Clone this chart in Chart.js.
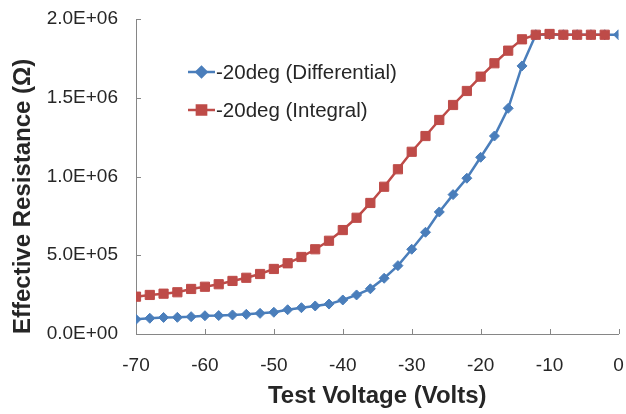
<!DOCTYPE html>
<html>
<head>
<meta charset="utf-8">
<script src="https://cdn.jsdelivr.net/npm/chart.js@4/dist/chart.umd.min.js"></script>
<style>
  html, body { margin: 0; padding: 0; background: #fff; }
  #wrap { width: 626px; height: 414px; }
</style>
</head>
<body>
<div id="wrap"><canvas id="resistanceChart" width="626" height="414"></canvas></div>
<script>
// Test voltages (V)
const voltsDiff = [-70, -68, -66, -64, -62, -60, -58, -56, -54, -52, -50, -48, -46, -44, -42, -40, -38, -36,
                   -34, -32, -30, -28, -26, -24, -22, -20, -18, -16, -14, -12, -10, -8, -6, -4, -2, 0];
const voltsInt = [-70, -68, -66, -64, -62, -60, -58, -56, -54, -52, -50, -48, -46, -44, -42, -40, -38, -36,
                  -34, -32, -30, -28, -26, -24, -22, -20, -18, -16, -14, -12, -10, -8, -6, -4, -2];

// Effective resistance (ohm)
const resDiff = [93000, 100000, 105000, 106000, 110000, 116000, 117000, 121000, 125000, 131000, 138000, 154000,
                 167000, 178000, 190000, 216000, 248000, 287000, 354000, 434000, 538000, 646000, 775000, 885000,
                 989000, 1122000, 1257000, 1433000, 1702000, 1900000, 1900000, 1900000, 1900000, 1900000, 1900000, 1900000];
const resInt = [237000, 248000, 256000, 265000, 286000, 300000, 316000, 337000, 357000, 381000, 413000, 449000,
                489000, 538000, 592000, 660000, 738000, 832000, 935000, 1046000, 1157000, 1257000, 1359000, 1454000,
                1543000, 1634000, 1719000, 1799000, 1871000, 1900000, 1905000, 1900000, 1900000, 1900000, 1900000];

const seriesNames = ['-20deg (Differential)', '-20deg (Integral)'];
const xTicks = [-70, -60, -50, -40, -30, -20, -10, 0];
const yTicks = [0, 500000, 1000000, 1500000, 2000000];

const BLUE = '#4A7EBB';
const RED = '#BE4B48';
const AXIS = '#868686';
const TEXT = '#262626';
const FONT = '"Liberation Sans", Arial, sans-serif';

function toPoints(xs, ys) {
    return xs.map((x, i) => ({ x: x, y: ys[i] }));
}

function sciLabel(v) {
    const [m, e] = Number(v).toExponential(1).split('e');
    const sign = e[0] === '-' ? '-' : '+';
    const digits = e.replace(/[+-]/, '').padStart(2, '0');
    return m + 'E' + sign + digits;
}

// short tick marks pointing into the plot area
const innerTicks = {
    id: 'innerTicks',
    afterDraw(chart) {
        const { ctx, chartArea, scales } = chart;
        ctx.save();
        ctx.strokeStyle = AXIS;
        ctx.lineWidth = 1;
        ctx.beginPath();
        xTicks.forEach(v => {
            const px = Math.round(scales.x.getPixelForValue(v)) + 0.5;
            ctx.moveTo(px, chartArea.bottom);
            ctx.lineTo(px, chartArea.bottom - 5);
        });
        yTicks.forEach(v => {
            const py = Math.round(scales.y.getPixelForValue(v)) + 0.5;
            ctx.moveTo(chartArea.left, py);
            ctx.lineTo(chartArea.left + 5, py);
        });
        ctx.stroke();
        ctx.restore();
    }
};

// legend inside the plot, top left
const insideLegend = {
    id: 'insideLegend',
    afterDraw(chart) {
        const ctx = chart.ctx;
        const entries = [
            { name: seriesNames[0], color: BLUE, style: 'rectRot', radius: 5, y: 72 },
            { name: seriesNames[1], color: RED, style: 'rect', radius: 6.5, y: 110 }
        ];
        ctx.save();
        entries.forEach(e => {
            ctx.strokeStyle = e.color;
            ctx.lineWidth = 2.5;
            ctx.beginPath();
            ctx.moveTo(188, e.y);
            ctx.lineTo(215, e.y);
            ctx.stroke();
            ctx.fillStyle = e.color;
            Chart.helpers.drawPoint(ctx, {
                pointStyle: e.style, radius: e.radius, rotation: 0, borderWidth: 1
            }, 201.5, e.y);
            ctx.fillStyle = TEXT;
            ctx.font = '20.5px ' + FONT;
            ctx.textAlign = 'left';
            ctx.textBaseline = 'middle';
            ctx.fillText(e.name, 216, e.y + 1);
        });
        ctx.restore();
    }
};

const ctx = document.getElementById('resistanceChart').getContext('2d');
const resistanceChart = new Chart(ctx, {
    type: 'line',
    data: {
        datasets: [
            {
                label: seriesNames[1],
                data: toPoints(voltsInt, resInt),
                borderColor: RED,
                backgroundColor: RED,
                borderWidth: 2.5,
                pointStyle: 'rect',
                pointRadius: 6.5,
                pointBorderWidth: 1,
                tension: 0,
                fill: false
            },
            {
                label: seriesNames[0],
                data: toPoints(voltsDiff, resDiff),
                borderColor: BLUE,
                backgroundColor: BLUE,
                borderWidth: 2.5,
                pointStyle: 'rectRot',
                pointRadius: 5,
                pointBorderWidth: 1,
                tension: 0,
                fill: false
            }
        ]
    },
    options: {
        responsive: false,
        animation: false,
        layout: { padding: { top: 19, right: 6, left: 0, bottom: 0 } },
        plugins: {
            legend: { display: false },
            tooltip: { enabled: false }
        },
        scales: {
            x: {
                type: 'linear',
                min: -70,
                max: 0,
                afterBuildTicks: scale => { scale.ticks = xTicks.map(v => ({ value: v })); },
                afterFit: scale => {
                    scale.height = 80;
                    scale.paddingLeft = 0;
                    scale.paddingRight = 0;
                },
                grid: { drawOnChartArea: false, drawTicks: false },
                border: { color: AXIS, width: 1 },
                ticks: {
                    padding: 20,
                    color: TEXT,
                    font: { family: FONT, size: 19 }
                },
                title: {
                    display: true,
                    text: 'Test Voltage (Volts)',
                    color: TEXT,
                    font: { family: FONT, size: 24, weight: 'bold' },
                    padding: { top: 0, bottom: 3 }
                }
            },
            y: {
                min: 0,
                max: 2000000,
                afterBuildTicks: scale => { scale.ticks = yTicks.map(v => ({ value: v })); },
                afterFit: scale => {
                    scale.width = 136;
                    scale.paddingTop = 0;
                    scale.paddingBottom = 0;
                },
                grid: { drawOnChartArea: false, drawTicks: false },
                border: { color: AXIS, width: 1 },
                ticks: {
                    padding: 18,
                    color: TEXT,
                    font: { family: FONT, size: 19 },
                    callback: v => sciLabel(v)
                },
                title: {
                    display: true,
                    text: 'Effective Resistance (Ω)',
                    align: 'start',
                    color: TEXT,
                    font: { family: FONT, size: 24, weight: 'bold' },
                    padding: { top: 9, bottom: 0 }
                }
            }
        }
    },
    plugins: [innerTicks, insideLegend]
});
</script>
</body>
</html>
